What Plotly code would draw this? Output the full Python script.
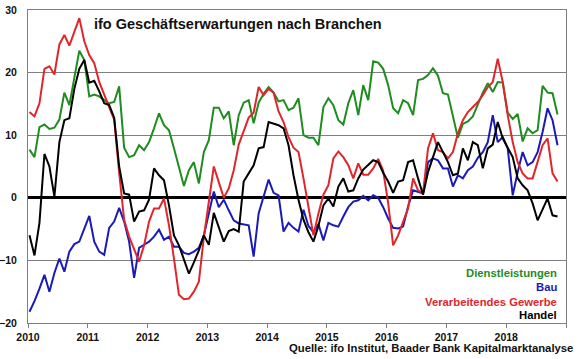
import plotly.graph_objects as go

# Monthly data Jan 2010 .. Nov 2018 (107 months)
dienstleistungen = [7.7, 6.5, 11.3, 11.7, 11.0, 11.2, 12.5, 16.8, 14.8, 19.5, 23.5, 22.0, 16.2, 16.5, 16.2, 15.6, 15.1, 15.3, 17.8, 8.0,
                    6.5, 6.8, 8.4, 7.6, 8.9, 11.1, 13.5, 11.6, 10.8, 7.9, 4.7, 1.9, 4.4, 5.7, 2.3, 7.3, 9.2, 14.4, 14.4, 12.7,
                    13.8, 8.4, 13.2, 15.2, 15.6, 11.9, 15.2, 16.6, 17.7, 16.8, 15.4, 15.6, 14.0, 14.4, 15.9, 10.0, 9.6, 9.6, 8.4, 14.5,
                    15.9, 14.8, 12.4, 11.7, 15.1, 17.2, 13.2, 18.0, 15.6, 21.8, 21.6, 20.6, 18.0, 14.3, 13.5, 15.6, 15.1, 13.2, 18.8, 19.0,
                    19.6, 20.7, 19.5, 16.7, 16.5, 13.2, 9.6, 11.8, 12.2, 13.0, 14.8, 16.8, 18.3, 16.9, 18.5, 18.4, 13.6, 12.6, 13.4, 9.0,
                    11.1, 10.3, 10.8, 17.9, 16.8, 16.7, 13.3]
bau = [-18.2, -16.5, -14.5, -12.3, -15.0, -12.0, -9.7, -11.8, -8.6, -7.4, -7.0, -5.0, -2.9, -7.0, -8.6, -9.1, -4.8, -3.8, -1.6, -3.8,
       -7.0, -12.8, -8.0, -7.5, -7.0, -6.2, -5.1, -6.7, -6.2, -7.8, -7.8, -8.8, -9.0, -8.6, -8.0, -6.0, -2.4, 1.0, -1.5, -0.3,
       -2.0, -3.6, -4.1, -4.3, -4.4, -9.4, -2.5, 0.2, 2.9, 0.8, 0.4, -5.4, -4.0, -4.8, -5.4, -1.9, -4.5, -5.5, -4.2, -6.8,
       -4.0, -4.4, -4.6, -3.0, -1.5, -0.6, -0.4, 0.3, -0.4, 0.4, 0.0, -1.5, -3.3, -4.8, -4.9, -4.6, -1.4, 1.2, 1.0, 0.7,
       5.7, 6.3, 6.0, 4.7, 4.7, 1.8, 3.6, 3.1, 4.4, 5.0, 6.4, 7.3, 8.9, 13.2, 8.9, 9.7, 7.9, 0.4, 4.1, 7.3,
       5.2, 5.7, 7.3, 10.5, 14.3, 12.4, 8.4]
verarbeitendes_gewerbe = [13.7, 13.0, 15.1, 20.6, 21.0, 19.7, 24.5, 26.0, 24.3, 26.5, 28.7, 25.0, 22.8, 21.5, 18.5, 16.5, 14.5, 12.5, 4.0, -3.5,
                          -6.2, -8.3, -10.2, -7.6, -3.8, -1.7, -1.7, -0.1, -4.4, -9.7, -15.5, -16.2, -16.1, -15.0, -13.4, -6.3, -1.0, 5.0, 2.5, 0.0,
                          1.5, 4.4, 8.5, 10.8, 12.8, 13.6, 17.7, 16.4, 17.4, 16.8, 13.8, 12.1, 9.7, 8.0, 7.3, 3.1, -1.2, -6.0, -2.5, 0.5,
                          2.0, 6.3, 7.4, 6.5, 5.2, 3.1, 5.5, 3.7, 3.7, 4.7, 6.2, 4.3, -0.8, -7.6, -6.0, -3.8, -1.7, 3.1, 1.2, 0.7,
                          7.9, 10.3, 7.6, 7.3, 6.3, 7.3, 10.3, 12.4, 13.7, 14.5, 15.3, 16.4, 17.7, 18.5, 22.2, 18.5, 13.2, 8.9, 5.7, 3.9,
                          3.1, 3.1, 5.7, 8.4, 9.5, 3.9, 2.6]
handel = [-6.0, -9.2, -4.0, 7.0, 5.0, 0.2, 8.9, 12.4, 12.7, 17.4, 20.6, 22.0, 18.4, 18.7, 17.0, 15.1, 14.8, 12.8, 5.0, 0.7,
          0.5, -3.8, -2.2, -2.0, -0.3, 4.7, 3.6, 2.8, -1.2, -6.0, -7.6, -9.7, -12.1, -10.3, -8.4, -6.0, -7.5, -2.4, -4.6, -7.0,
          -5.3, -5.0, -5.4, 2.6, 3.9, 5.2, 7.9, 8.1, 12.1, 11.9, 11.6, 11.1, 8.4, 3.6, -0.3, -3.5, -5.5, -7.0, -4.5, -1.2,
          -0.1, -1.4, 1.8, 3.1, 1.0, 1.2, 3.1, 4.5, 5.2, 6.0, 5.7, 4.0, 2.6, 0.8, 2.6, 2.8, 5.7, 6.0, 3.1, 0.5,
          4.1, 6.5, 8.9, 7.3, 5.7, 3.6, 3.9, 7.9, 6.0, 8.9, 8.4, 4.7, 7.9, 8.5, 12.1, 9.5, 7.9, 6.5, 3.1, 2.0,
          1.2, -0.9, -3.6, -1.7, -0.1, -2.8, -3.0]

start_year = 2010
year_ticks = [2010, 2011, 2012, 2013, 2014, 2015, 2016, 2017, 2018, 2019]
year_labels = ["2010", "2011", "2012", "2013", "2014", "2015", "2016", "2017", "2018", ""]
y_ticks = [-20, -10, 0, 10, 20, 30]

series = [
    ("Dienstleistungen", dienstleistungen, "#1E8C1E"),
    ("Bau", bau, "#1A1AB8"),
    ("Verarbeitendes Gewerbe", verarbeitendes_gewerbe, "#E0262B"),
    ("Handel", handel, "#000000"),
]

fig = go.Figure()
for name, vals, col in series:
    xs = [start_year + (i + 0.3) / 12 for i in range(len(vals))]
    fig.add_trace(go.Scatter(x=xs, y=vals, mode="lines", name=name,
                             line=dict(color=col, width=2), showlegend=False))

FONT = "Liberation Sans, Arial, sans-serif"
fig.update_layout(
    width=580, height=359,
    margin=dict(l=28, r=14, t=10, b=36, autoexpand=False),
    paper_bgcolor="white", plot_bgcolor="white",
    font=dict(family=FONT, color="#111111"),
    xaxis=dict(range=[2010, 2019], tickvals=year_ticks, ticktext=year_labels, automargin=False,
               showgrid=False, zeroline=False, showline=True, linecolor="#808080",
               linewidth=1, mirror=True, ticks="outside", ticklen=4, tickcolor="#808080",
               tickfont=dict(size=10.5, family=FONT, color="#111111", weight="bold")),
    yaxis=dict(range=[-20, 30], tickvals=y_ticks, showgrid=True, gridcolor="#808080", automargin=False,
               gridwidth=1, zeroline=True, zerolinecolor="#000000", zerolinewidth=2.5,
               showline=True, linecolor="#808080", linewidth=1, mirror=True, ticks="",
               ticklabelstandoff=8,
               tickfont=dict(size=10.5, family=FONT, color="#111111", weight="bold")),
)

fig.add_annotation(text="<b>ifo Geschäftserwartungen nach Branchen</b>", xref="paper", yref="paper",
                   x=0.119, y=0.954, xanchor="left", yanchor="middle", showarrow=False,
                   font=dict(size=14.5, family=FONT, color="#111111"))

legend_y = [0.1604, 0.1158, 0.066, 0.0255]
for (name, vals, col), ly in zip(series, legend_y):
    fig.add_annotation(text="<b>" + name + "</b>", xref="paper", yref="paper",
                       x=0.987, y=ly, xanchor="right", yanchor="middle", showarrow=False,
                       font=dict(size=11.3, family=FONT, color=col))

fig.add_annotation(text="<b>Quelle: ifo Institut, Baader Bank Kapitalmarktanalyse</b>",
                   xref="paper", yref="paper", x=1.0167, y=-0.0797, xanchor="right",
                   yanchor="middle", showarrow=False,
                   font=dict(size=11.3, family=FONT, color="#111111"))

fig.write_html("out.html", config={"displayModeBar": False},
               post_script="document.body.style.margin='0px';document.body.style.overflow='hidden';")
